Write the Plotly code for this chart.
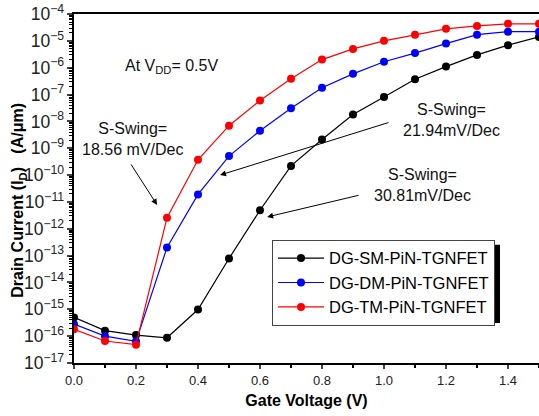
import plotly.graph_objects as go

vg = [0.0, 0.1, 0.2, 0.3, 0.4, 0.5, 0.6, 0.7, 0.8, 0.9, 1.0, 1.1, 1.2, 1.3, 1.4, 1.5]
sm = [5e-16, 1.6e-16, 1.1e-16, 8.7e-17, 9.8e-16, 7.8e-14, 4.9e-12, 2.2e-10, 2.1e-9,
      1.8e-8, 8.1e-8, 3.7e-7, 1.1e-6, 3.0e-6, 6.9e-6, 1.4e-5]
dm = [2.8e-16, 1.0e-16, 6.4e-17, 2.0e-13, 1.9e-11, 5.1e-10, 4.5e-9, 3.1e-8, 1.8e-7,
      5.9e-7, 1.66e-6, 3.5e-6, 7.9e-6, 1.7e-5, 2.2e-5, 2.2e-5]
tm = [1.8e-16, 6.6e-17, 4.8e-17, 2.6e-12, 3.7e-10, 6.9e-9, 6.0e-8, 3.9e-7, 2.0e-6,
      5.0e-6, 1.0e-5, 1.7e-5, 2.8e-5, 3.6e-5, 4.3e-5, 4.3e-5]
names = ["DG-SM-PiN-TGNFET", "DG-DM-PiN-TGNFET", "DG-TM-PiN-TGNFET"]
colors = ["black", "blue", "red"]
minor_vals = [m * 10.0 ** e for e in range(-17, -4) for m in range(2, 10)]

fig = go.Figure()
for ys, nm, c in zip([sm, dm, tm], names, colors):
    fig.add_trace(go.Scatter(x=vg, y=ys, name=nm, mode="lines+markers",
                             line=dict(color=c, width=1.2),
                             marker=dict(color=c, size=8)))
# empty trace so the minor-tick overlay axis is drawn
fig.add_trace(go.Scatter(x=[], y=[], yaxis="y2", showlegend=False, hoverinfo="skip"))

FONT = "Liberation Sans, Arial, sans-serif"

def ann(x, ly, text, **kw):
    d = dict(x=x, y=ly, xref="x", yref="y", text=text, showarrow=False,
             font=dict(family=FONT, size=16, color="#111"))
    d.update(kw)
    fig.add_annotation(**d)

def arrow(x, ly, ax, ay):
    fig.add_annotation(x=x, y=ly, xref="x", yref="y", text="", showarrow=True,
                       ax=ax, ay=ay, arrowhead=2, arrowsize=1.2, arrowwidth=1,
                       arrowcolor="black")

ann(0.316, -5.96, "At V<sub>DD</sub>= 0.5V")
ann(0.19, -8.65, "S-Swing=<br>18.56 mV/Dec")
arrow(0.268, -11.11, -27, -42)
ann(1.219, -7.94, "S-Swing=<br>21.94mV/Dec")
arrow(0.471, -10.0, 170, -53)
ann(1.123, -10.36, "S-Swing=<br>30.81mV/Dec")
arrow(0.623, -11.56, 93, -22)

# y-axis title placed like the reference (slightly below centre)
fig.add_annotation(xref="paper", yref="paper", x=(19 - 74) / 465, y=(363 - 201) / 348.5,
                   xanchor="center", yanchor="middle",
                   text="<b>Drain Current (I<sub>D</sub>)   (A/\u03bcm)</b>", textangle=-90,
                   showarrow=False, font=dict(family=FONT, size=16, color="black"))

# legend shadow
fig.add_shape(type="rect", xref="paper", yref="paper",
              x0=(277 - 74) / 465, x1=(500 - 74) / 465,
              y0=(363 - 323) / 348.5, y1=(363 - 245) / 348.5,
              fillcolor="black", line=dict(width=0), layer="above")

fig.update_layout(
    width=539, height=416,
    margin=dict(l=74, r=0, t=14, b=53),
    paper_bgcolor="white", plot_bgcolor="white",
    font=dict(family=FONT, size=12, color="black"),
    showlegend=True,
    legend=dict(x=(272 - 74) / 465, y=(363 - 240) / 348.5, xanchor="left", yanchor="top",
                bgcolor="white", bordercolor="#444", borderwidth=1,
                font=dict(family=FONT, size=16.5, color="black"),
                tracegroupgap=0, itemwidth=46),
    yaxis2=dict(type="log", range=[-17, -4], overlaying="y", side="left", anchor="x",
                tickmode="array", tickvals=minor_vals, showticklabels=False,
                ticks="outside", ticklen=4, tickwidth=1, tickcolor="black",
                showgrid=False, zeroline=False, showline=False),
)
fig.update_xaxes(range=[0, 1.5], dtick=0.2, tick0=0, tickformat=".1f",
                 showline=True, linecolor="black", linewidth=2, mirror=True,
                 ticks="outside", ticklen=4, tickwidth=1.5, showgrid=False, zeroline=False,
                 minor=dict(dtick=0.1, ticks="outside", ticklen=3, tickcolor="black"),
                 title=dict(text="<b>Gate Voltage (V)</b>", font=dict(size=16), standoff=8),
                 tickfont=dict(size=13, color="#222"))
fig.update_layout(yaxis=dict(type="log", range=[-17, -4], dtick=1, tick0=0,
                 exponentformat="power", showexponent="all",
                 showline=True, linecolor="black", linewidth=2, mirror=False,
                 ticks="outside", ticklen=5, tickwidth=1.5, showgrid=False, zeroline=False,
                 tickfont=dict(size=14, color="#222")))

fig.write_html("out.html")
